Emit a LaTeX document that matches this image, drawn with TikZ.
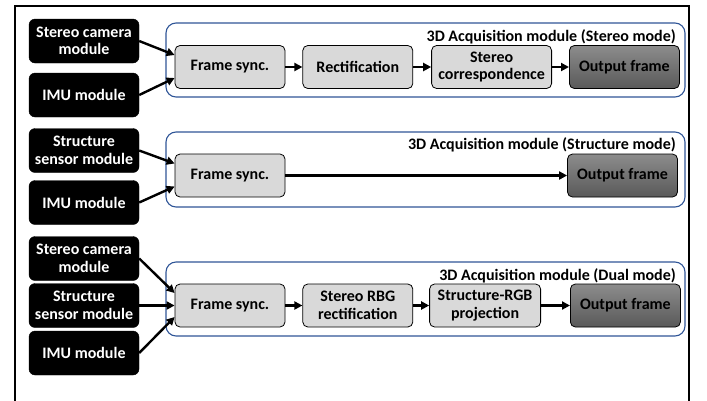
\documentclass[tikz,border=0pt]{standalone}
\usepackage{fontspec}
\setmainfont{Carlito}
\usetikzlibrary{positioning,arrows.meta,calc}
\definecolor{modblue}{HTML}{2F5597}
\tikzset{
  >=Triangle,
}

\begin{document}
\begin{tikzpicture}[x=1pt, y=-1pt,
  font=\fontsize{16}{17.5}\selectfont\bfseries,
  src/.style={draw, fill=black, text=white, rounded corners=6pt, minimum width=110pt, minimum height=44pt, align=center, inner sep=1pt},
  box/.style={draw, line width=0.8pt, fill=black!15, rounded corners=5pt, minimum width=110pt, minimum height=43pt, align=center, inner sep=1pt},
  outbox/.style={box, top color=black!45, bottom color=black!65},
  module/.style={draw=modblue, line width=1.1pt, rounded corners=10pt},
  title/.style={anchor=east, inner sep=0pt},
  arr/.style={line width=2.4pt, -{Triangle[length=8pt, width=8pt]}}
]
  \useasboundingbox (0,0) rectangle (707,400);
  % frame round the whole figure
  \draw[line width=1.6pt] (15,410) -- (15,6) -- (689,6) -- (689,410);

  % stereo mode
  \draw[module] (166,23) rectangle (685,97);
  \node[title] (t1) at (676,37) {3D Acquisition module (Stereo mode)};
  \node[src] (cam1) at (84,41) {Stereo camera\\module};
  \node[src] (imu1) at (84,95) {IMU module};
  \node[box] (sync1) at (230,67) {Frame sync.};
  \node[box, right=17pt of sync1] (rect1) {Rectification};
  \node[box, minimum width=120pt, right=18pt of rect1] (corr1) {Stereo\\correspondence};
  \node[outbox, right=17pt of corr1] (out1) {Output frame};
  \draw[arr] (cam1.east) -- ([yshift=12pt]sync1.west);
  \draw[arr] (imu1.east) -- ([yshift=-11pt]sync1.west);
  \draw[arr] (sync1) -- (rect1);
  \draw[arr] (rect1) -- (corr1);
  \draw[arr] (corr1) -- (out1);

  % structure mode
  \draw[module] (166,132) rectangle (685,207);
  \node[title] (t2) at (676,145) {3D Acquisition module (Structure mode)};
  \node[src] (str2) at (84,150.5) {Structure\\sensor module};
  \node[src] (imu2) at (84,202.5) {IMU module};
  \node[box] (sync2) at (230,175.5) {Frame sync.};
  \node[outbox] (out2) at (622.5,175.5) {Output frame};
  \draw[arr] (str2.east) -- ([yshift=12pt]sync2.west);
  \draw[arr] (imu2.east) -- ([yshift=-11pt]sync2.west);
  \draw[arr] (sync2) -- (out2);

  % dual mode
  \draw[module] (166,262) rectangle (685,336);
  \node[title] (t3) at (676,276) {3D Acquisition module (Dual mode)};
  \node[src] (cam3) at (84,258.5) {Stereo camera\\module};
  \node[src] (str3) at (84,305.5) {Structure\\sensor module};
  \node[src] (imu3) at (84,353) {IMU module};
  \node[box] (sync3) at (230,305.5) {Frame sync.};
  \node[box, right=17pt of sync3] (rect3) {Stereo RBG\\rectification};
  \node[box, minimum width=111pt, right=16pt of rect3] (proj3) {Structure-RGB\\projection};
  \node[outbox, right=29pt of proj3] (out3) {Output frame};
  \draw[arr] (cam3.east) -- ([yshift=12.5pt]sync3.west);
  \draw[arr] (str3.east) -- (sync3.west);
  \draw[arr] (imu3.east) -- ([yshift=-11.5pt]sync3.west);
  \draw[arr] (sync3) -- (rect3);
  \draw[arr] (rect3) -- (proj3);
  \draw[arr] (proj3) -- (out3);
\end{tikzpicture}
\end{document}
